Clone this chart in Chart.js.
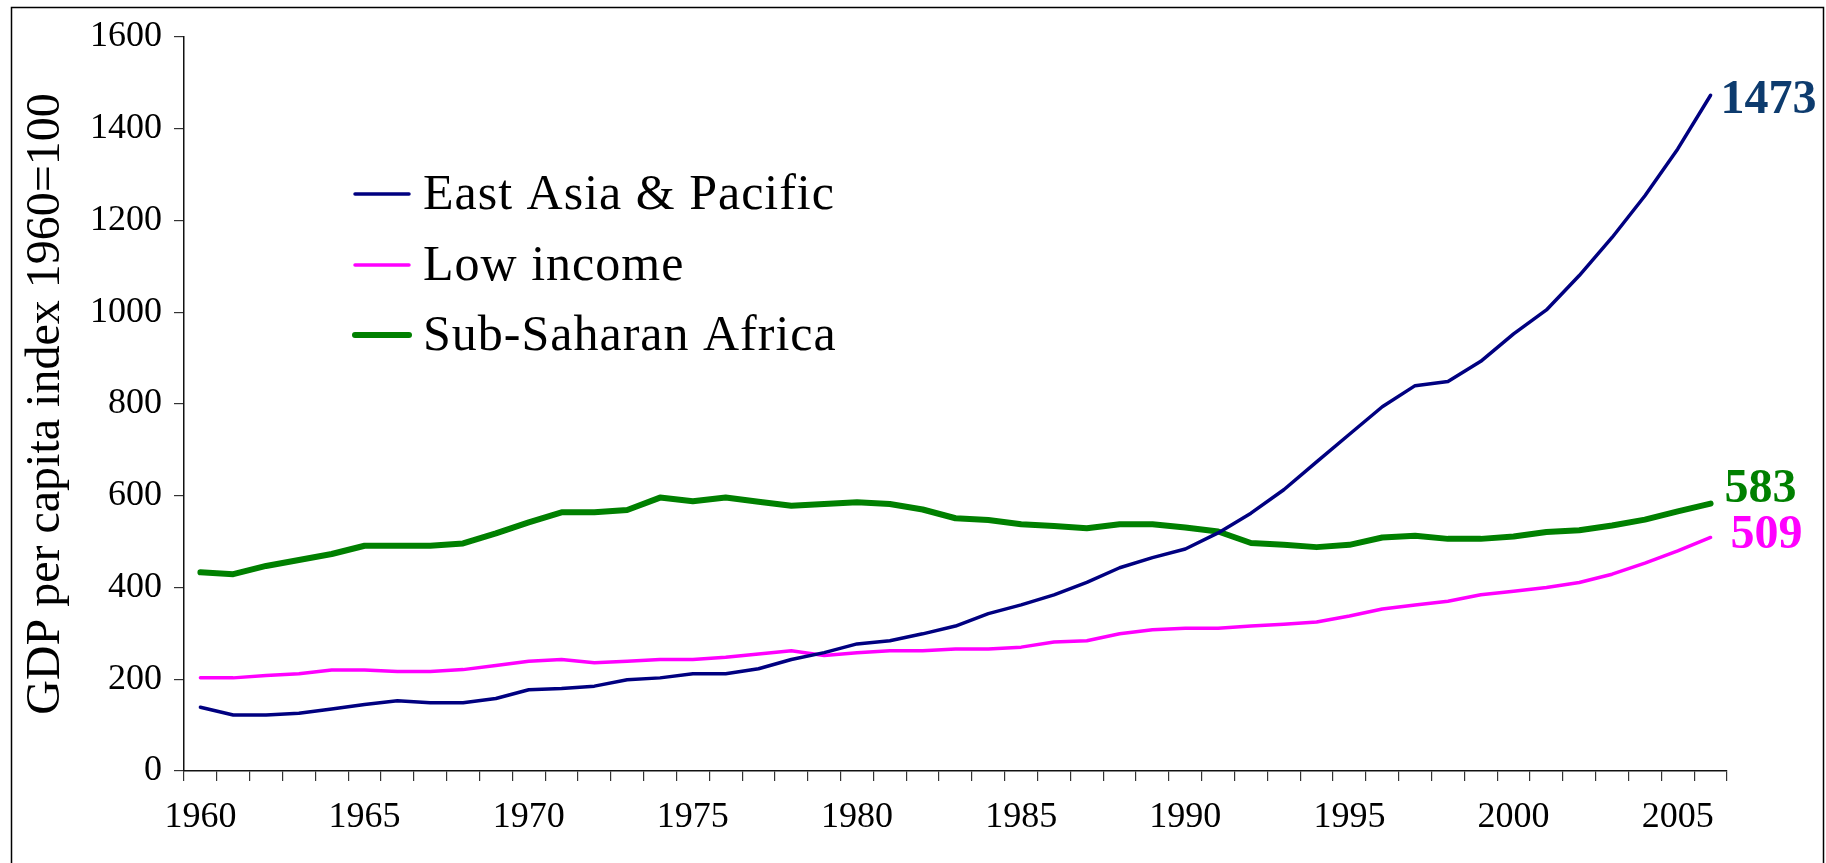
<!DOCTYPE html>
<html>
<head>
<meta charset="utf-8">
<script src="https://cdn.jsdelivr.net/npm/chart.js@4.4.1/dist/chart.umd.min.js"></script>
<style>
  body { margin: 0; background: #fff; }
  #wrap { width: 1826px; height: 863px; }
</style>
</head>
<body>
<div id="wrap"><canvas id="myChart" width="1826" height="863"></canvas></div>
<script>
var years = [1960, 1961, 1962, 1963, 1964, 1965, 1966, 1967, 1968, 1969,
             1970, 1971, 1972, 1973, 1974, 1975, 1976, 1977, 1978, 1979,
             1980, 1981, 1982, 1983, 1984, 1985, 1986, 1987, 1988, 1989,
             1990, 1991, 1992, 1993, 1994, 1995, 1996, 1997, 1998, 1999,
             2000, 2001, 2002, 2003, 2004, 2005, 2006];

var eastAsia = [139, 122, 122, 126, 135, 145, 153, 149, 149, 158,
                177, 180, 185, 199, 203, 212, 212, 223, 243, 258,
                277, 284, 299, 316, 343, 362, 384, 411, 443, 465,
                484, 519, 562, 613, 674, 734, 794, 840, 849, 893,
                953, 1005, 1080, 1163, 1254, 1356, 1473];

var lowIncome = [203, 203, 208, 212, 220, 220, 217, 217, 221, 230,
                 239, 243, 236, 239, 243, 243, 248, 255, 262, 252,
                 258, 262, 262, 266, 266, 270, 281, 284, 299, 308,
                 311, 311, 316, 320, 325, 338, 353, 362, 370, 384,
                 392, 400, 411, 429, 453, 480, 509];

var subSahara = [433, 429, 447, 460, 473, 491, 491, 491, 496, 518,
                 542, 564, 564, 569, 596, 588, 596, 587, 578, 582,
                 586, 582, 570, 551, 547, 538, 534, 529, 538, 538,
                 531, 522, 497, 493, 488, 493, 509, 513, 506, 506,
                 511, 521, 525, 535, 548, 566, 583];

var seriesNames = ["East Asia & Pacific", "Low income", "Sub-Saharan Africa"];
var yTicks = [0, 200, 400, 600, 800, 1000, 1200, 1400, 1600];

// styling, kept apart from the data
var lineColors = ["#000080", "#ff00ff", "#008000"];
var lineWidths = [3.5, 3.5, 6];
var endLabelColors = ["#0d3b6e", "#ff00ff", "#008000"];
var endLabelShift = [[10, 5], [20, -2], [14, -14]];
var legendRows = [194, 265, 335];

const serif = '"Liberation Serif", "Times New Roman", serif';

// legend drawn inside the plot, like the original
const legendInside = {
  id: 'legendInside',
  afterDatasetsDraw(chart) {
    const ctx = chart.ctx;
    ctx.save();
    chart.data.datasets.forEach(function(ds, i) {
      ctx.strokeStyle = ds.borderColor;
      ctx.lineWidth = ds.borderWidth;
      ctx.lineCap = 'round';
      ctx.beginPath();
      ctx.moveTo(355, legendRows[i]);
      ctx.lineTo(409, legendRows[i]);
      ctx.stroke();
      ctx.fillStyle = '#000';
      ctx.font = '50px ' + serif;
      ctx.letterSpacing = '1px';
      ctx.textBaseline = 'middle';
      ctx.textAlign = 'left';
      ctx.fillText(ds.label, 423, legendRows[i] + 2);
    });
    ctx.restore();
  }
};

// last value printed next to the end of each line
const endLabels = {
  id: 'endLabels',
  afterDatasetsDraw(chart) {
    const ctx = chart.ctx;
    ctx.save();
    chart.data.datasets.forEach(function(ds, i) {
      const meta = chart.getDatasetMeta(i);
      const pt = meta.data[meta.data.length - 1];
      const v = ds.data[ds.data.length - 1];
      ctx.font = 'bold 48px ' + serif;
      ctx.fillStyle = endLabelColors[i];
      ctx.textBaseline = 'middle';
      ctx.textAlign = 'left';
      ctx.fillText(String(v), pt.x + endLabelShift[i][0], pt.y + endLabelShift[i][1]);
    });
    ctx.restore();
  }
};

const frame = {
  id: 'frame',
  afterDraw(chart) {
    const ctx = chart.ctx;
    ctx.save();
    ctx.strokeStyle = '#000';
    ctx.lineWidth = 1.5;
    ctx.strokeRect(11.5, 7.5, 1812, 870);
    ctx.restore();
  }
};

Chart.defaults.font.family = serif;
Chart.defaults.color = '#000';

new Chart("myChart", {
  type: "line",
  data: {
    labels: years,
    datasets: [
      { label: seriesNames[0], data: eastAsia, borderColor: lineColors[0], borderWidth: lineWidths[0] },
      { label: seriesNames[1], data: lowIncome, borderColor: lineColors[1], borderWidth: lineWidths[1] },
      { label: seriesNames[2], data: subSahara, borderColor: lineColors[2], borderWidth: lineWidths[2] }
    ]
  },
  options: {
    responsive: false,
    animation: false,
    devicePixelRatio: 1,
    layout: { padding: { top: 37, right: 99, left: 0, bottom: 0 } },
    elements: {
      point: { radius: 0, hoverRadius: 0 },
      line: { tension: 0, borderCapStyle: 'round', borderJoinStyle: 'round' }
    },
    plugins: {
      legend: { display: false },
      tooltip: { enabled: false }
    },
    scales: {
      x: {
        type: 'category',
        offset: true,
        afterFit: function(scale) { scale.height = 92; },
        grid: { offset: true, drawOnChartArea: false, drawTicks: true, tickLength: 10, color: '#333', lineWidth: 1.2 },
        border: { color: '#111', width: 1.5 },
        ticks: {
          autoSkip: false,
          maxRotation: 0,
          padding: 15,
          font: { size: 36 },
          callback: function(val, idx) {
            var y = years[idx];
            return y % 5 === 0 ? String(y) : '';
          }
        }
      },
      y: {
        min: 0,
        max: 1600,
        afterFit: function(scale) { scale.width = 184; },
        afterBuildTicks: function(scale) { scale.ticks = yTicks.map(function(v) { return { value: v }; }); },
        grid: { drawOnChartArea: false, drawTicks: true, tickLength: 10, color: '#333', lineWidth: 1.2 },
        border: { color: '#111', width: 1.5 },
        ticks: {
          padding: 12,
          font: { size: 36 },
          callback: function(v) { return String(v); }
        },
        title: {
          display: true,
          text: 'GDP per capita index 1960=100',
          font: { size: 48 },
          padding: { top: 18, bottom: 0 }
        }
      }
    }
  },
  plugins: [legendInside, endLabels, frame]
});
</script>
</body>
</html>
